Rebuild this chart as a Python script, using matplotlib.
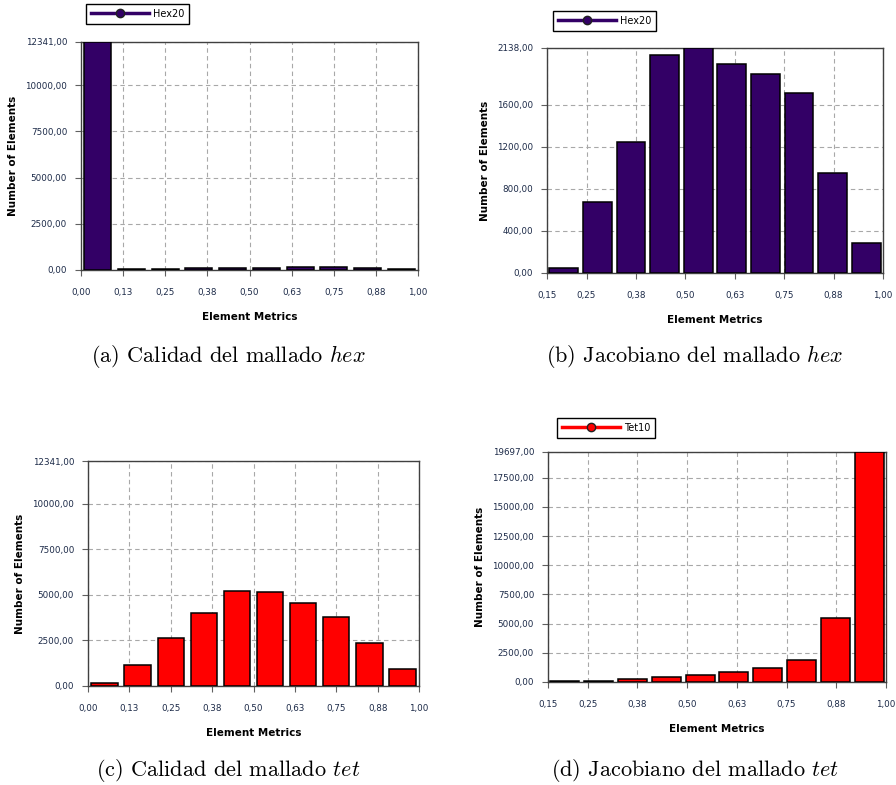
import numpy as np
import matplotlib
matplotlib.use("Agg")
import matplotlib.pyplot as plt
from matplotlib.lines import Line2D

plt.rcParams['mathtext.fontset'] = 'cm'

# --- data ---
hex_quality = [12341, 40, 45, 110, 110, 100, 170, 170, 100, 40]
hex_jacobian = [51, 670, 1242, 2074, 2138, 1982, 1887, 1709, 950, 283]
tet_quality = [183, 1134, 2651, 4022, 5229, 5174, 4571, 3785, 2358, 951]
tet_jacobian = [80, 80, 260, 430, 630, 830, 1170, 1915, 5460, 19697]

quality_range = (0.0, 1.0)
jacobian_range = (0.15, 1.0)

quality_xticks = [0.0, 0.125, 0.25, 0.375, 0.5, 0.625, 0.75, 0.875, 1.0]
quality_xlabels = ["0,00", "0,13", "0,25", "0,38", "0,50", "0,63", "0,75", "0,88", "1,00"]
jacobian_xticks = [0.15, 0.25, 0.375, 0.5, 0.625, 0.75, 0.875, 1.0]
jacobian_xlabels = ["0,15", "0,25", "0,38", "0,50", "0,63", "0,75", "0,88", "1,00"]

yticks_a = [0, 2500, 5000, 7500, 10000, 12341]
yticks_b = [0, 400, 800, 1200, 1600, 2138]
yticks_c = [0, 2500, 5000, 7500, 10000, 12341]
yticks_d = [0, 2500, 5000, 7500, 10000, 12500, 15000, 17500, 19697]

captions = [
    r"(a) Calidad del mallado $\mathit{hex}$",
    r"(b) Jacobiano del mallado $\mathit{hex}$",
    r"(c) Calidad del mallado $\mathit{tet}$",
    r"(d) Jacobiano del mallado $\mathit{tet}$",
]

PURPLE = "#330066"
RED = "#ff0000"
TICKCOL = "#1c2a48"
W, H = 896, 785


def fig_rect(l, t, r, b):
    return [l / W, 1 - b / H, (r - l) / W, (b - t) / H]


def panel(ax, values, xr, xticks, xlabels, yticks, color, frac):
    lo, hi = xr
    n = len(values)
    w = (hi - lo) / n
    centers = lo + w * (np.arange(n) + 0.5)
    ax.bar(centers, values, width=w * frac, color=color, edgecolor="black",
           linewidth=1.1, zorder=3)
    ax.set_xlim(lo, hi)
    ax.set_ylim(0, yticks[-1])
    ax.set_xticks(xticks)
    ax.set_xticklabels(xlabels)
    ax.set_yticks(yticks)
    ax.set_yticklabels([f"{v:.2f}".replace(".", ",") for v in yticks])
    ax.grid(True, color="#a8a8a8", linestyle=(0, (4, 3)), linewidth=0.8)
    ax.set_axisbelow(True)
    for s in ax.spines.values():
        s.set_color("#404040")
        s.set_linewidth(1.0)
    ax.tick_params(axis="both", direction="out", length=4, width=0.8,
                   color="#606060", labelsize=6.3, labelcolor=TICKCOL, pad=6)
    ax.tick_params(axis="x", pad=9)
    ax.set_xlabel("Element Metrics", fontsize=7.5, fontweight="bold", labelpad=11)
    ax.set_ylabel("Number of Elements", fontsize=7.5, fontweight="bold", labelpad=5)


fig = plt.figure(figsize=(W / 100, H / 100), dpi=100)

ax_a = fig.add_axes(fig_rect(81, 42, 418, 270))
ax_b = fig.add_axes(fig_rect(547, 48, 883, 273))
ax_c = fig.add_axes(fig_rect(88, 461, 419, 686))
ax_d = fig.add_axes(fig_rect(548, 452, 886, 682))

panel(ax_a, hex_quality, quality_range, quality_xticks, quality_xlabels, yticks_a, PURPLE, 0.8)
panel(ax_b, hex_jacobian, jacobian_range, jacobian_xticks, jacobian_xlabels, yticks_b, PURPLE, 0.86)
panel(ax_c, tet_quality, quality_range, quality_xticks, quality_xlabels, yticks_c, RED, 0.8)
panel(ax_d, tet_jacobian, jacobian_range, jacobian_xticks, jacobian_xlabels, yticks_d, RED, 0.86)


# legends sitting above the plot areas
def add_legend(label, color, x, y):
    h = Line2D([], [], color=color, lw=2.5, marker="o", markersize=6,
               markerfacecolor=color, markeredgecolor="#202020")
    leg = fig.legend([h], [label], loc="upper left", bbox_to_anchor=(x / W, 1 - y / H),
                     fontsize=7, frameon=True, fancybox=False, edgecolor="black",
                     framealpha=1, handlelength=6, borderpad=0.5, handletextpad=0.4,
                     borderaxespad=0)
    leg.get_frame().set_linewidth(1.0)


add_legend("Hex20", PURPLE, 86, 4)
add_legend("Hex20", PURPLE, 553, 11)
add_legend("Tet10", RED, 557, 418)

# captions
cap_pos = [(228, 357), (695, 357), (228, 771), (695, 771)]
for txt, (cx, cy) in zip(captions, cap_pos):
    fig.text(cx / W, 1 - cy / H, txt, ha="center", va="center",
             fontsize=16, family="cmr10")

fig.savefig("out.png", dpi=100)
